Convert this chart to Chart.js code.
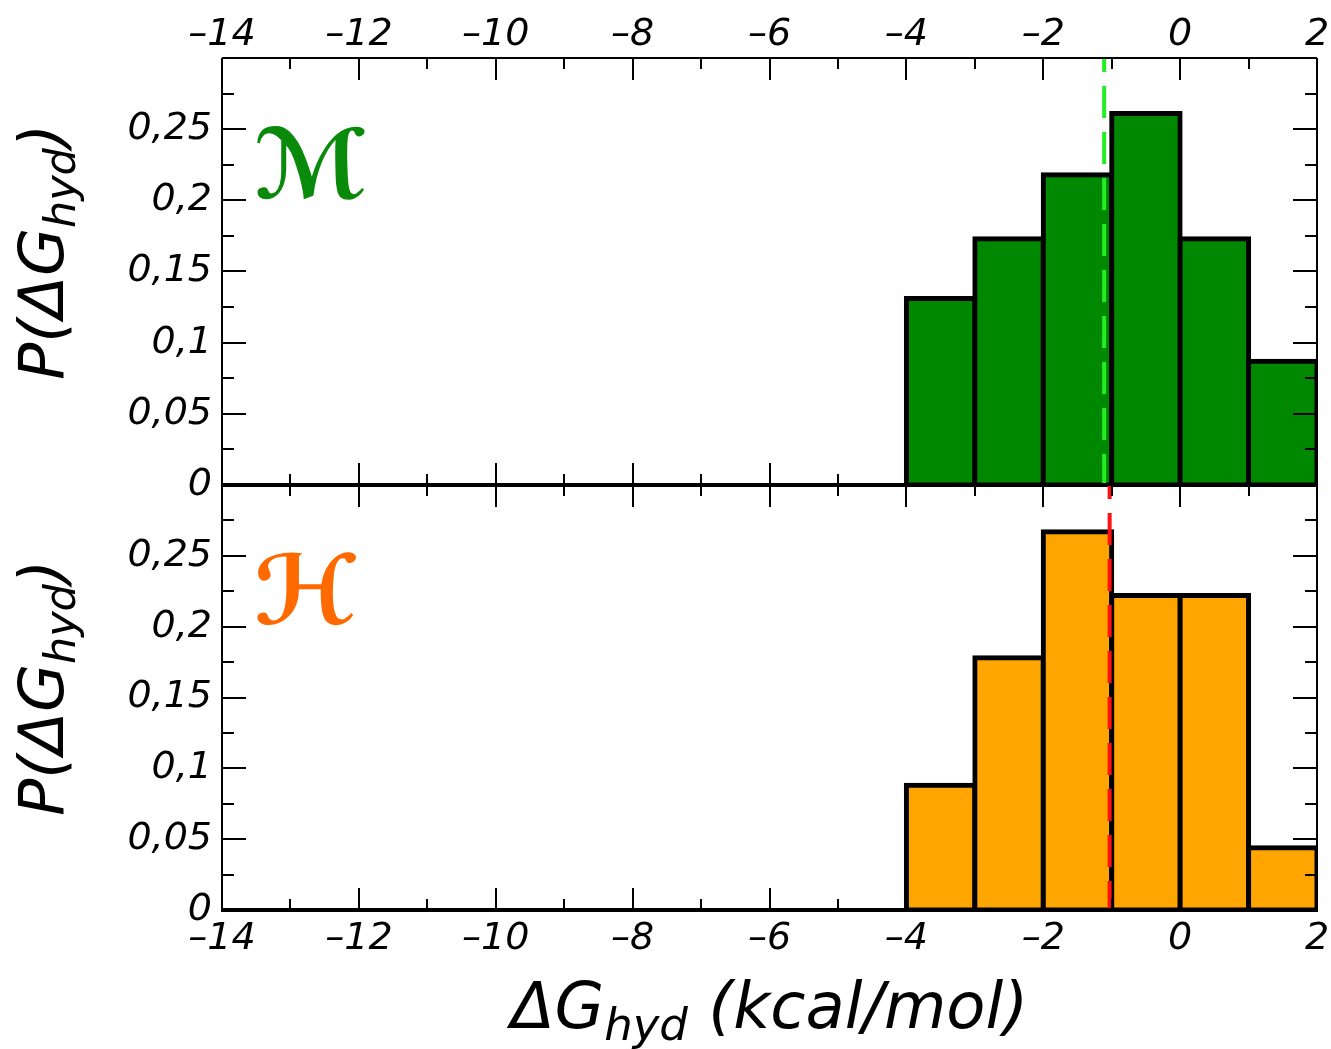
<!DOCTYPE html>
<html>
<head>
<meta charset="utf-8">
<script src="https://cdn.jsdelivr.net/npm/chart.js@4/dist/chart.umd.min.js"></script>
<style>
  body { margin: 0; background: #fff; }
  #wrap { position: relative; width: 1331px; height: 1049px; }
  #wrap canvas { position: absolute; left: 0; top: 0; }
</style>
</head>
<body>
<div id="wrap">
  <canvas id="chart-m" width="1331" height="1049"></canvas>
  <canvas id="chart-h" width="1331" height="1049"></canvas>
</div>
<script>
// histogram bins (width 1 kcal/mol), centres
const binCenters = [-3.5, -2.5, -1.5, -0.5, 0.5, 1.5];
const probM = [0.131, 0.173, 0.218, 0.261, 0.173, 0.087];
const probH = [0.088, 0.178, 0.267, 0.222, 0.222, 0.044];
// mean values (dashed lines)
const meanM = -1.11;
const meanH = -1.03;
// axis ranges / ticks
const xRange = [-14, 2];
const yRange = [0, 0.3];
const xStep = 2, yStep = 0.05;

const FONT = '"DejaVu Sans", Verdana, sans-serif';
const tickFont = { family: FONT, size: 38, style: 'italic' };

function fmtX(v) {
  return v < 0 ? '–' + Math.abs(v) : String(v);
}

function fmtY(v) {
  if (v > 0.29) return '';
  return String(Math.round(v * 100) / 100).replace('.', ',');
}

// text with subscript part, drawn centred at (cx, y baseline)
function drawSubText(ctx, parts, cx, y, size) {
  const subSize = Math.round(size * 0.7);
  let total = 0;
  parts.forEach(p => {
    ctx.font = `italic ${p.sub ? subSize : size}px ${FONT}`;
    p.w = ctx.measureText(p.t).width;
    total += p.w;
  });
  let x = cx - total / 2;
  ctx.textAlign = 'left';
  ctx.textBaseline = 'alphabetic';
  parts.forEach(p => {
    ctx.font = `italic ${p.sub ? subSize : size}px ${FONT}`;
    ctx.fillText(p.t, x, y + (p.sub ? 12 : 0));
    x += p.w;
  });
}

// inward ticks + frame
const frameTicks = {
  id: 'frameTicks',
  afterDatasetsDraw(chart, args, opts) {
    const { ctx, chartArea: a, scales: { x, y } } = chart;
    ctx.save();
    ctx.strokeStyle = '#000';
    ctx.lineWidth = 2;
    ctx.beginPath();
    for (let v = xRange[0]; v <= xRange[1]; v += 1) {
      const px = Math.round(x.getPixelForValue(v));
      const len = v % 2 === 0 ? 22 : 11;
      ctx.moveTo(px, a.top); ctx.lineTo(px, a.top + len);
      ctx.moveTo(px, a.bottom); ctx.lineTo(px, a.bottom - len);
    }
    for (let i = 0; i <= 12; i++) {
      const v = i * 0.025;
      const py = Math.round(y.getPixelForValue(v));
      const len = i % 2 === 0 ? 24 : 12;
      ctx.moveTo(a.left, py); ctx.lineTo(a.left + len, py);
      ctx.moveTo(a.right, py); ctx.lineTo(a.right - len, py);
    }
    ctx.stroke();
    // frame
    ctx.beginPath();
    ctx.moveTo(a.left, a.top); ctx.lineTo(a.left, a.bottom);
    ctx.moveTo(a.right, a.top); ctx.lineTo(a.right, a.bottom);
    ctx.moveTo(a.left, a.top); ctx.lineTo(a.right, a.top);
    ctx.stroke();
    ctx.lineWidth = 4;
    ctx.beginPath();
    ctx.moveTo(a.left - 1, a.bottom); ctx.lineTo(a.right + 1, a.bottom);
    ctx.stroke();

    // panel letter
    ctx.fillStyle = opts.letterColor;
    ctx.font = `italic bold 96px "DejaVu Sans", sans-serif`;
    ctx.textAlign = 'left';
    ctx.textBaseline = 'alphabetic';
    ctx.fillText(opts.letter, a.left + 32, opts.letterY);

    // y title (rotated)
    ctx.fillStyle = '#000';
    ctx.save();
    ctx.translate(63, opts.yTitleY);
    ctx.rotate(-Math.PI / 2);
    drawSubText(ctx, [{ t: 'P(ΔG' }, { t: 'hyd', sub: true }, { t: ')' }], 0, 0, 62);
    ctx.restore();

    if (opts.xTitle) {
      drawSubText(ctx, [{ t: 'ΔG' }, { t: 'hyd', sub: true }, { t: ' (kcal/mol)' }],
        (a.left + a.right) / 2, 1028, 64);
    }
    ctx.restore();
  }
};

function makeChart(id, values, barColor, mean, meanColor, cfg) {
  return new Chart(document.getElementById(id), {
    type: 'bar',
    data: {
      datasets: [
        {
          type: 'line',
          data: [{ x: mean, y: yRange[1] }, { x: mean, y: 0 }],
          borderColor: meanColor,
          borderWidth: 4,
          borderDash: [32, 14],
          borderDashOffset: 18,
          pointRadius: 0,
          order: 0
        },
        {
          data: binCenters.map((c, i) => ({ x: c, y: values[i] })),
          backgroundColor: barColor,
          borderColor: '#000',
          borderWidth: 5,
          borderSkipped: false,
          inflateAmount: 2.5,
          barPercentage: 1,
          categoryPercentage: 1,
          order: 1
        }
      ]
    },
    options: {
      responsive: false,
      animation: false,
      layout: { padding: cfg.padding },
      plugins: {
        legend: { display: false },
        tooltip: { enabled: false },
        frameTicks: cfg.frame
      },
      scales: {
        x: {
          type: 'linear',
          position: cfg.xPos,
          min: xRange[0], max: xRange[1],
          offset: false,
          grid: { display: false, drawTicks: false, offset: false },
          border: { display: false },
          ticks: { stepSize: xStep, font: tickFont, color: '#000', padding: cfg.xPad, maxRotation: 0, callback: fmtX },
          afterFit: s => { s.height = cfg.xHeight; s.paddingLeft = 0; s.paddingRight = 0; }
        },
        y: {
          min: yRange[0], max: yRange[1],
          grid: { display: false, drawTicks: false },
          border: { display: false },
          ticks: { stepSize: yStep, font: tickFont, color: '#000', padding: 10, callback: fmtY },
          afterFit: s => { s.width = 222; s.paddingTop = 0; s.paddingBottom = 0; }
        }
      }
    },
    plugins: [frameTicks]
  });
}

makeChart('chart-m', probM, '#008800', meanM, '#22ee22', {
  padding: { top: 0, left: 0, right: 14, bottom: 564 },
  xPos: 'top', xHeight: 58, xPad: 0,
  frame: { letter: 'ℳ', letterColor: '#0a8a0a', letterY: 198, yTitleY: 252, xTitle: false }
});

makeChart('chart-h', probH, '#ffa500', meanH, '#ff1010', {
  padding: { top: 485, left: 0, right: 14, bottom: 0 },
  xPos: 'bottom', xHeight: 139, xPad: 6,
  frame: { letter: 'ℋ', letterColor: '#ff6a00', letterY: 624, yTitleY: 688, xTitle: true }
});
</script>
</body>
</html>
